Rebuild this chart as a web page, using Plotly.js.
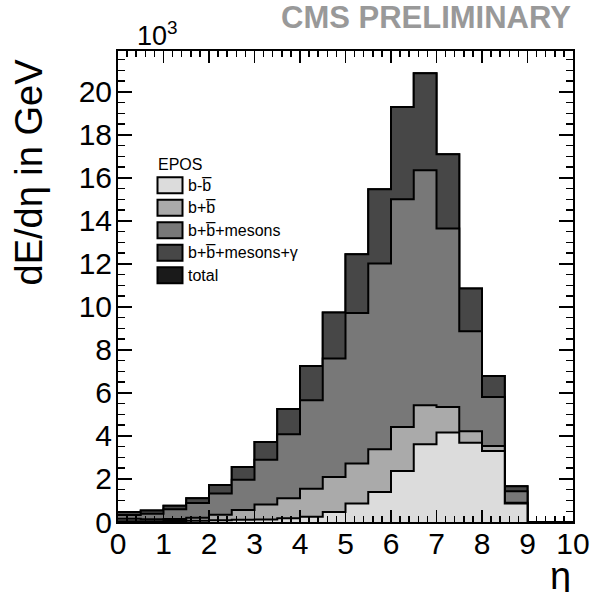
<!DOCTYPE html>
<html>
<head>
<meta charset="utf-8">
<script src="https://cdn.plot.ly/plotly-3.0.1.min.js"></script>
<style>
html,body{margin:0;padding:0;background:#fff;}
#chart{width:592px;height:597px;}
</style>
</head>
<body>
<div id="chart"></div>
<script>
// bin edges in eta (20 bins of width 0.5)
const etaEdges = [0,0.5,1,1.5,2,2.5,3,3.5,4,4.5,5,5.5,6,6.5,7,7.5,8,8.5,9,9.5,10];
// dE/deta in units of 10^3 GeV, one value per bin
const totalVals  = [0.47,0.53,0.76,1.10,1.72,2.56,3.72,5.25,7.25,9.74,12.45,15.47,19.30,20.86,17.10,10.86,6.79,1.66,0,0];
const gammaVals  = [0.47,0.53,0.76,1.10,1.72,2.56,3.72,5.25,7.25,9.74,12.45,15.47,19.30,20.86,17.10,10.86,6.79,1.66,0,0];
const mesonVals  = [0.32,0.38,0.59,0.88,1.32,1.97,2.90,4.08,5.66,7.60,9.72,12.02,15.01,16.36,13.65,8.87,5.81,1.43,0,0];
const bbSumVals  = [0.15,0.13,0.14,0.20,0.34,0.56,0.81,1.11,1.55,2.09,2.72,3.38,4.42,5.43,5.35,4.22,3.53,0.90,0,0];
const bbDiffVals = [0.04,0.04,0.05,0.06,0.08,0.10,0.12,0.18,0.24,0.47,0.86,1.40,2.37,3.61,4.16,3.69,3.30,0.86,0,0];

const seriesNames  = ['total','b+b\u0305+mesons+\u03B3','b+b\u0305+mesons','b+b\u0305','b-b\u0305'];
const seriesVals   = [totalVals, gammaVals, mesonVals, bbSumVals, bbDiffVals];
const seriesColors = ['#1a1a1a','#474747','#787878','#aaaaaa','#dcdcdc'];

const FONT = 'Liberation Sans, Arial, Helvetica, sans-serif';

const traces = seriesVals.map((vals, i) => ({
  type: 'scatter',
  mode: 'lines',
  x: etaEdges,
  y: vals.concat([vals[vals.length - 1]]),
  line: {shape: 'hv', color: '#000', width: 2},
  fill: 'tozeroy',
  fillcolor: seriesColors[i],
  name: seriesNames[i],
  showlegend: false,
  hoverinfo: 'skip'
}));

// plot-area geometry (pixels) for placing the legend and labels
const L = 118, T = 51, W = 455, H = 471;
const px = v => (v - L) / W;
const py = v => (T + H - v) / H;

const legendOrder = [4,3,2,1,0]; // b-b, b+b, mesons, gamma, total
const shapes = [];
const annotations = [];
annotations.push({xref:'paper', yref:'paper', x:px(156), y:py(164.5), xanchor:'left', yanchor:'middle',
  text:'EPOS', showarrow:false, font:{family:FONT, size:16, color:'#000'}});
legendOrder.forEach((si, j) => {
  const cy = 185.3 + j * 22.5;
  shapes.push({type:'rect', xref:'paper', yref:'paper', x0:px(157.5), x1:px(182.5), y0:py(cy - 8), y1:py(cy + 8),
    fillcolor: seriesColors[si], line:{color:'#000', width:2}});
  annotations.push({xref:'paper', yref:'paper', x:px(186), y:py(cy), xanchor:'left', yanchor:'middle',
    text: seriesNames[si], showarrow:false, font:{family:FONT, size:16, color:'#000'}});
});

annotations.push({xref:'paper', yref:'paper', x:px(28), y:py(57), xanchor:'center', yanchor:'top', textangle:-90,
  text:'dE/d\u03B7 in GeV', showarrow:false, font:{family:FONT, size:38, color:'#000'}});
annotations.push({xref:'paper', yref:'paper', x:1, y:py(576), xanchor:'right', yanchor:'middle', height:32,
  text:'\u03B7', showarrow:false, font:{family:FONT, size:38, color:'#000'}});
annotations.push({xref:'paper', yref:'paper', x:px(135), y:py(53), xanchor:'left', yanchor:'bottom',
  text:'10<sup>3</sup>', showarrow:false, font:{family:FONT, size:27, color:'#000'}});
annotations.push({xref:'paper', yref:'paper', x:1, y:py(17), xanchor:'right', yanchor:'middle',
  text:'<b>CMS PRELIMINARY</b>', showarrow:false, font:{family:FONT, size:31, color:'#999999'}});

const layout = {
  width: 592, height: 597,
  margin: {l: L, r: 592 - L - W, t: T, b: 597 - T - H, pad: 0},
  paper_bgcolor: '#fff', plot_bgcolor: '#fff',
  showlegend: false,
  xaxis: {
    range: [0, 10], dtick: 1, tick0: 0,
    ticks: 'inside', ticklen: 12, tickwidth: 1.5, tickcolor: '#000',
    minor: {dtick: 0.2, ticks: 'inside', ticklen: 6, tickwidth: 1.5, tickcolor: '#000', showgrid: false},
    showline: true, linewidth: 2, linecolor: '#000', mirror: 'allticks',
    showgrid: false, zeroline: false, layer: 'above traces',
    ticklabelstandoff: -6,
    tickfont: {family: FONT, size: 30, color: '#000'}
  },
  yaxis: {
    range: [0, 21.9], dtick: 2, tick0: 0,
    ticks: 'inside', ticklen: 14, tickwidth: 1.5, tickcolor: '#000',
    minor: {dtick: 0.5, ticks: 'inside', ticklen: 7, tickwidth: 1.5, tickcolor: '#000', showgrid: false},
    showline: true, linewidth: 2, linecolor: '#000', mirror: 'allticks',
    showgrid: false, zeroline: false, layer: 'above traces',
    ticklabelstandoff: -2,
    tickfont: {family: FONT, size: 30, color: '#000'}
  },
  shapes: shapes,
  annotations: annotations
};

Plotly.newPlot('chart', traces, layout, {staticPlot: true, displayModeBar: false});
</script>
</body>
</html>
